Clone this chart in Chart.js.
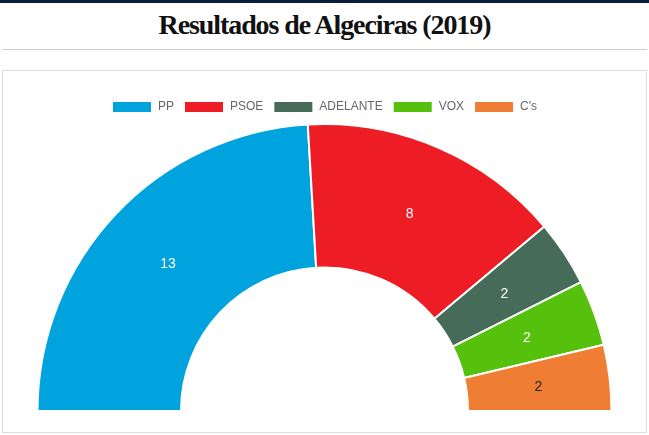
<!DOCTYPE html>
<html>
<head>
  <title>Resultados de Algeciras (2019)</title>
  <script src="https://cdn.jsdelivr.net/npm/chart.js"></script>
  <style>
    body { margin: 0; background: #fff; }
    #topline { position: absolute; left: 0; top: 0; width: 649px; height: 3px; background: #0b1d3a; }
    #title { position: absolute; left: 0; top: 9px; width: 649px; text-align: center;
      font-family: "Liberation Serif", serif; font-weight: bold; font-size: 28px;
      letter-spacing: -1.1px; color: #111; }
    #rule { position: absolute; left: 2px; top: 49px; width: 645px; height: 1px; background: #ccc; }
    #card { position: absolute; left: 2px; top: 70px; width: 643px; height: 361px; border: 1px solid #ddd; }
  </style>
</head>
<body>
  <div id="topline"></div>
  <div id="title">Resultados de Algeciras (2019)</div>
  <div id="rule"></div>
  <div id="card"><canvas id="chart" width="643" height="361"></canvas></div>
  <script>
    const partidos = ['PP', 'PSOE', 'ADELANTE', 'VOX', "C's"];
    const concejales = [13, 8, 2, 2, 2];
    const colores = ['#00a3dd', '#ee1c25', '#466b58', '#55c10d', '#ef7d34'];
    const coloresEtiqueta = ['#fff', '#fff', '#fff', '#fff', '#222'];

    // write the seat count in the middle of each slice
    const etiquetas = {
      id: 'etiquetas',
      afterDatasetsDraw(chart) {
        const c = chart.ctx;
        const meta = chart.getDatasetMeta(0);
        c.save();
        c.font = '14px "Liberation Sans", Arial, sans-serif';
        c.textAlign = 'center';
        c.textBaseline = 'middle';
        meta.data.forEach((arc, i) => {
          const p = arc.tooltipPosition();
          c.fillStyle = coloresEtiqueta[i];
          c.fillText(concejales[i], p.x, p.y + 1);
        });
        c.restore();
      }
    };

    new Chart(document.getElementById('chart').getContext('2d'), {
      type: 'doughnut',
      data: {
        labels: partidos,
        datasets: [{
          data: concejales,
          backgroundColor: colores,
          borderColor: '#fff',
          borderWidth: 2
        }]
      },
      options: {
        responsive: false,
        animation: false,
        rotation: -90,
        circumference: 180,
        cutout: '50%',
        layout: { padding: { top: 20, bottom: 20, left: 10, right: 10 } },
        plugins: {
          legend: {
            position: 'top',
            labels: {
              boxWidth: 40,
              boxHeight: 12,
              color: '#666',
              font: { family: '"Liberation Sans", Arial, sans-serif', size: 12 },
              padding: 10
            }
          },
          tooltip: { enabled: false }
        }
      },
      plugins: [etiquetas]
    });
  </script>
</body>
</html>
